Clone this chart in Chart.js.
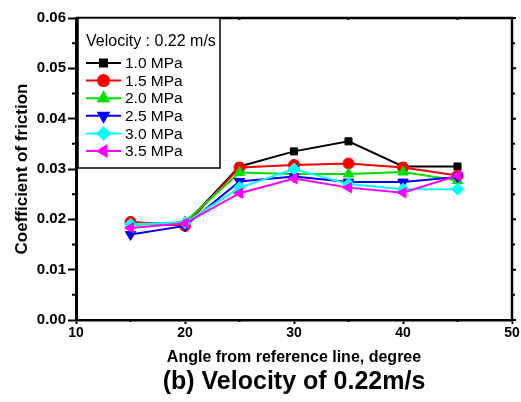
<!DOCTYPE html>
<html><head><meta charset="utf-8">
<script src="https://cdn.jsdelivr.net/npm/chart.js@4/dist/chart.umd.min.js"></script>
<style>html,body{margin:0;padding:0;background:#fff}</style>
</head><body><canvas id="c" width="521" height="402"></canvas>
<script>
const angles = [15, 20, 25, 30, 35, 40, 45];
const mpa10 = [0.0193, 0.0190, 0.0305, 0.0335, 0.0355, 0.0305, 0.0305];
const mpa15 = [0.0195, 0.0187, 0.0303, 0.0308, 0.0311, 0.0303, 0.0287];
const mpa20 = [0.0188, 0.0195, 0.0293, 0.0290, 0.0290, 0.0294, 0.0277];
const mpa25 = [0.0170, 0.0187, 0.0275, 0.0285, 0.0274, 0.0274, 0.0284];
const mpa30 = [0.0190, 0.0193, 0.0263, 0.0300, 0.0270, 0.0260, 0.0260];
const mpa35 = [0.0183, 0.0192, 0.0252, 0.0281, 0.0263, 0.0253, 0.0287];
const seriesLabels = ['1.0 MPa', '1.5 MPa', '2.0 MPa', '2.5 MPa', '3.0 MPa', '3.5 MPa'];
const legendTitle = 'Velocity : 0.22 m/s';
const xTicks = [10, 20, 30, 40, 50];
const xMinorTicks = [15, 25, 35, 45];
const yTicks = [0, 0.01, 0.02, 0.03, 0.04, 0.05, 0.06];
const yMinorTicks = [0.005, 0.015, 0.025, 0.035, 0.045, 0.055];
const xTitle = 'Angle from reference line, degree';
const yTitle = 'Coefficient of friction';
const chartTitle = '(b) Velocity of 0.22m/s';

const allSeries = [mpa10, mpa15, mpa20, mpa25, mpa30, mpa35];
const colors = ['#000000', '#ff0000', '#00e000', '#0000ff', '#00ffff', '#ff00ff'];
const styles = [
  {pointStyle: 'rect', rotation: 0, radius: 5},
  {pointStyle: 'circle', rotation: 0, radius: 5.5},
  {pointStyle: 'triangle', rotation: 0, radius: 6},
  {pointStyle: 'triangle', rotation: 180, radius: 6},
  {pointStyle: 'rectRot', rotation: 0, radius: 6},
  {pointStyle: 'triangle', rotation: 270, radius: 6}
];

const datasets = allSeries.map((vals, i) => ({
  label: seriesLabels[i],
  data: angles.map((a, j) => ({x: a, y: vals[j]})),
  borderColor: colors[i],
  backgroundColor: colors[i],
  borderWidth: 2,
  pointStyle: styles[i].pointStyle,
  rotation: styles[i].rotation,
  pointRadius: styles[i].radius,
  pointBorderWidth: 1,
  order: 5 - i,
  tension: 0
}));

const FONT = "'Liberation Sans', Arial, sans-serif";

const decor = {
  id: 'decor',
  afterDraw(chart) {
    const ctx = chart.ctx;
    const a = chart.chartArea;
    const xs = chart.scales.x, ys = chart.scales.y;
    ctx.save();
    ctx.strokeStyle = '#000';
    ctx.lineWidth = 2.5;
    ctx.beginPath();
    ctx.moveTo(a.left, a.top); ctx.lineTo(a.right, a.top); ctx.lineTo(a.right, a.bottom);
    ctx.stroke();
    ctx.lineWidth = 2;
    ctx.beginPath();
    yMinorTicks.forEach(v => {
      const y = ys.getPixelForValue(v);
      ctx.moveTo(a.left - 4, y); ctx.lineTo(a.left, y);
      ctx.moveTo(a.right, y); ctx.lineTo(a.right + 3, y);
    });
    yTicks.forEach(v => {
      const y = ys.getPixelForValue(v);
      ctx.moveTo(a.right, y); ctx.lineTo(a.right + 4, y);
    });
    xMinorTicks.forEach(v => {
      const x = xs.getPixelForValue(v);
      ctx.moveTo(x, a.bottom); ctx.lineTo(x, a.bottom + 2);
      ctx.moveTo(x, a.top); ctx.lineTo(x, a.top + 2);
    });
    ctx.stroke();

    const bx = a.left + 2, by = a.top, bw = 142, bh = 150;
    ctx.fillStyle = '#fff';
    ctx.fillRect(bx, by, bw, bh);
    ctx.lineWidth = 1.5;
    ctx.strokeRect(bx, by, bw, bh);
    ctx.fillStyle = '#000';
    ctx.textBaseline = 'middle';
    ctx.textAlign = 'left';
    ctx.font = '16px ' + FONT;
    ctx.fillText(legendTitle, bx + 8, by + 24);
    ctx.font = '15.5px ' + FONT;
    seriesLabels.forEach((lab, i) => {
      const y = by + 45 + i * 17.6;
      ctx.strokeStyle = colors[i];
      ctx.lineWidth = 2;
      ctx.beginPath();
      ctx.moveTo(bx + 8, y); ctx.lineTo(bx + 43, y);
      ctx.stroke();
      ctx.fillStyle = colors[i];
      Chart.helpers.drawPoint(ctx, {pointStyle: styles[i].pointStyle, rotation: styles[i].rotation, radius: styles[i].radius, borderWidth: 1}, bx + 25.5, y);
      ctx.fillStyle = '#000';
      ctx.fillText(lab, bx + 47, y + 1);
    });

    ctx.font = 'bold 25px ' + FONT;
    ctx.textAlign = 'center';
    ctx.fillStyle = '#000';
    ctx.fillText(chartTitle, 294, 382);
    ctx.restore();
  }
};

new Chart(document.getElementById('c'), {
  type: 'line',
  data: {datasets},
  options: {
    responsive: false,
    animation: false,
    devicePixelRatio: 1,
    layout: {padding: {left: 0, right: 9, top: 18, bottom: 0}},
    plugins: {legend: {display: false}, tooltip: {enabled: false}, title: {display: false}},
    scales: {
      x: {
        type: 'linear', min: 10, max: 50,
        afterBuildTicks: s => { s.ticks = xTicks.map(v => ({value: v})); },
        afterFit: s => { s.height = 82; },
        ticks: {color: '#000', font: {family: FONT, size: 14, weight: 'bold'}, padding: 1, maxRotation: 0},
        grid: {drawOnChartArea: false, tickLength: 4, tickColor: '#000', tickWidth: 2},
        border: {color: '#000', width: 2.5},
        title: {display: true, text: xTitle, color: '#000', font: {family: FONT, size: 16, weight: 'bold'}, padding: {top: 0, bottom: 35}}
      },
      y: {
        type: 'linear', min: 0, max: 0.06,
        afterBuildTicks: s => { s.ticks = yTicks.map(v => ({value: v})); },
        afterFit: s => { s.width = 76; },
        ticks: {color: '#000', font: {family: FONT, size: 15, weight: 'bold'}, padding: 2, callback: v => v.toFixed(2)},
        grid: {drawOnChartArea: false, tickLength: 8, tickColor: '#000', tickWidth: 2},
        border: {color: '#000', width: 3},
        title: {display: true, text: yTitle, color: '#000', font: {family: FONT, size: 17, weight: 'bold'}, padding: {top: 12, bottom: 0}}
      }
    }
  },
  plugins: [decor]
});
</script>
</body></html>
